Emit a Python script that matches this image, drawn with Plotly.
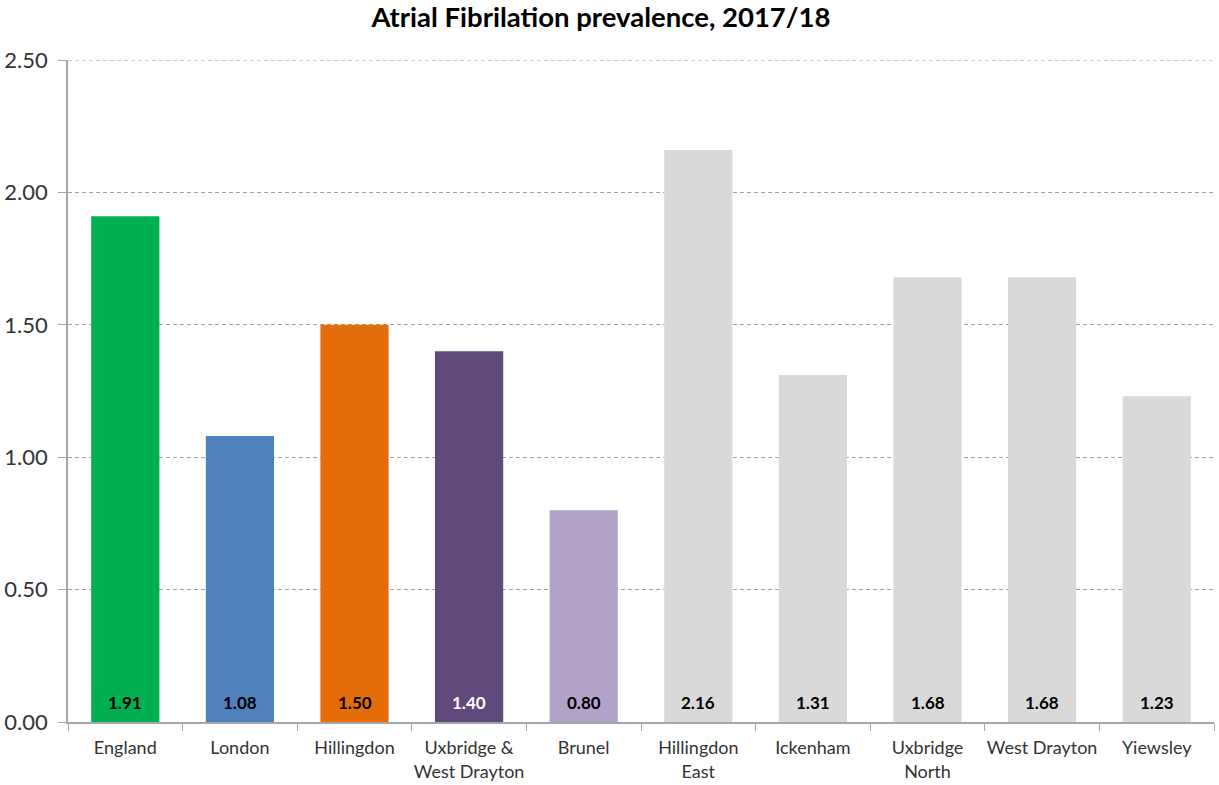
import plotly.graph_objects as go

categories = ["England", "London", "Hillingdon", "Uxbridge &<br>West Drayton", "Brunel",
              "Hillingdon<br>East", "Ickenham", "Uxbridge<br>North", "West Drayton", "Yiewsley"]
values = [1.91, 1.08, 1.50, 1.40, 0.80, 2.16, 1.31, 1.68, 1.68, 1.23]
bar_colors = ["#00b050", "#4f81bd", "#e46c0a", "#604a7b", "#b3a2c7",
              "#d9d9d9", "#d9d9d9", "#d9d9d9", "#d9d9d9", "#d9d9d9"]
label_colors = ["#000000", "#000000", "#000000", "#ffffff", "#000000",
                "#000000", "#000000", "#000000", "#000000", "#000000"]
y_ticks = [0, 0.5, 1.0, 1.5, 2.0, 2.5]

FONT = "Lato, 'Open Sans', sans-serif"

fig = go.Figure()
fig.add_trace(go.Bar(
    x=categories, y=values,
    marker=dict(color=bar_colors, line=dict(width=0)),
    hoverinfo="skip",
))

for c, v, col in zip(categories, values, label_colors):
    fig.add_annotation(
        x=c, y=0, yref="y", xref="x",
        text=f"<b>{v:.2f}</b>", showarrow=False,
        yanchor="middle", yshift=20,
        font=dict(family=FONT, size=17, color=col),
    )

# top gridline at the axis maximum (plotly skips grid lines at the range edge)
fig.add_shape(type="line", xref="paper", yref="y", x0=0, x1=1,
              y0=y_ticks[-1], y1=y_ticks[-1],
              line=dict(color="#a0a0a0", width=1, dash="4px,3px"), layer="below")

fig.update_layout(
    width=1219, height=785,
    paper_bgcolor="white", plot_bgcolor="white",
    margin=dict(l=68, r=5, t=60, b=63, autoexpand=False),
    bargap=0.405,
    showlegend=False,
    title=dict(text="<b>Atrial Fibrilation prevalence, 2017/18</b>",
               x=0.493, xanchor="center", y=0.978, yanchor="middle",
               font=dict(family=FONT, size=27.5, color="#000000")),
    font=dict(family=FONT, color="#333333"),
)
fig.update_xaxes(
    showline=True, linecolor="#a6a6a6", linewidth=1.5,
    ticks="outside", tickson="boundaries", ticklen=7, tickcolor="#a6a6a6",
    tickfont=dict(family=FONT, size=18, color="#333333"),
    tickangle=0, ticklabelstandoff=9,
    showgrid=False, automargin=False,
)
fig.update_yaxes(
    range=[0, 2.5], tickvals=y_ticks, tickformat=".2f",
    showline=True, linecolor="#a6a6a6", linewidth=1.5,
    ticks="outside", ticklen=8, tickcolor="#a6a6a6",
    showgrid=True, gridcolor="#a0a0a0", griddash="4px,3px", gridwidth=1,
    zeroline=False, automargin=False,
    tickfont=dict(family=FONT, size=22, color="#333333"),
    ticklabelstandoff=6,
)

fig.write_html("out.html", config={"displayModeBar": False},
               post_script="document.body.style.margin='0';")
